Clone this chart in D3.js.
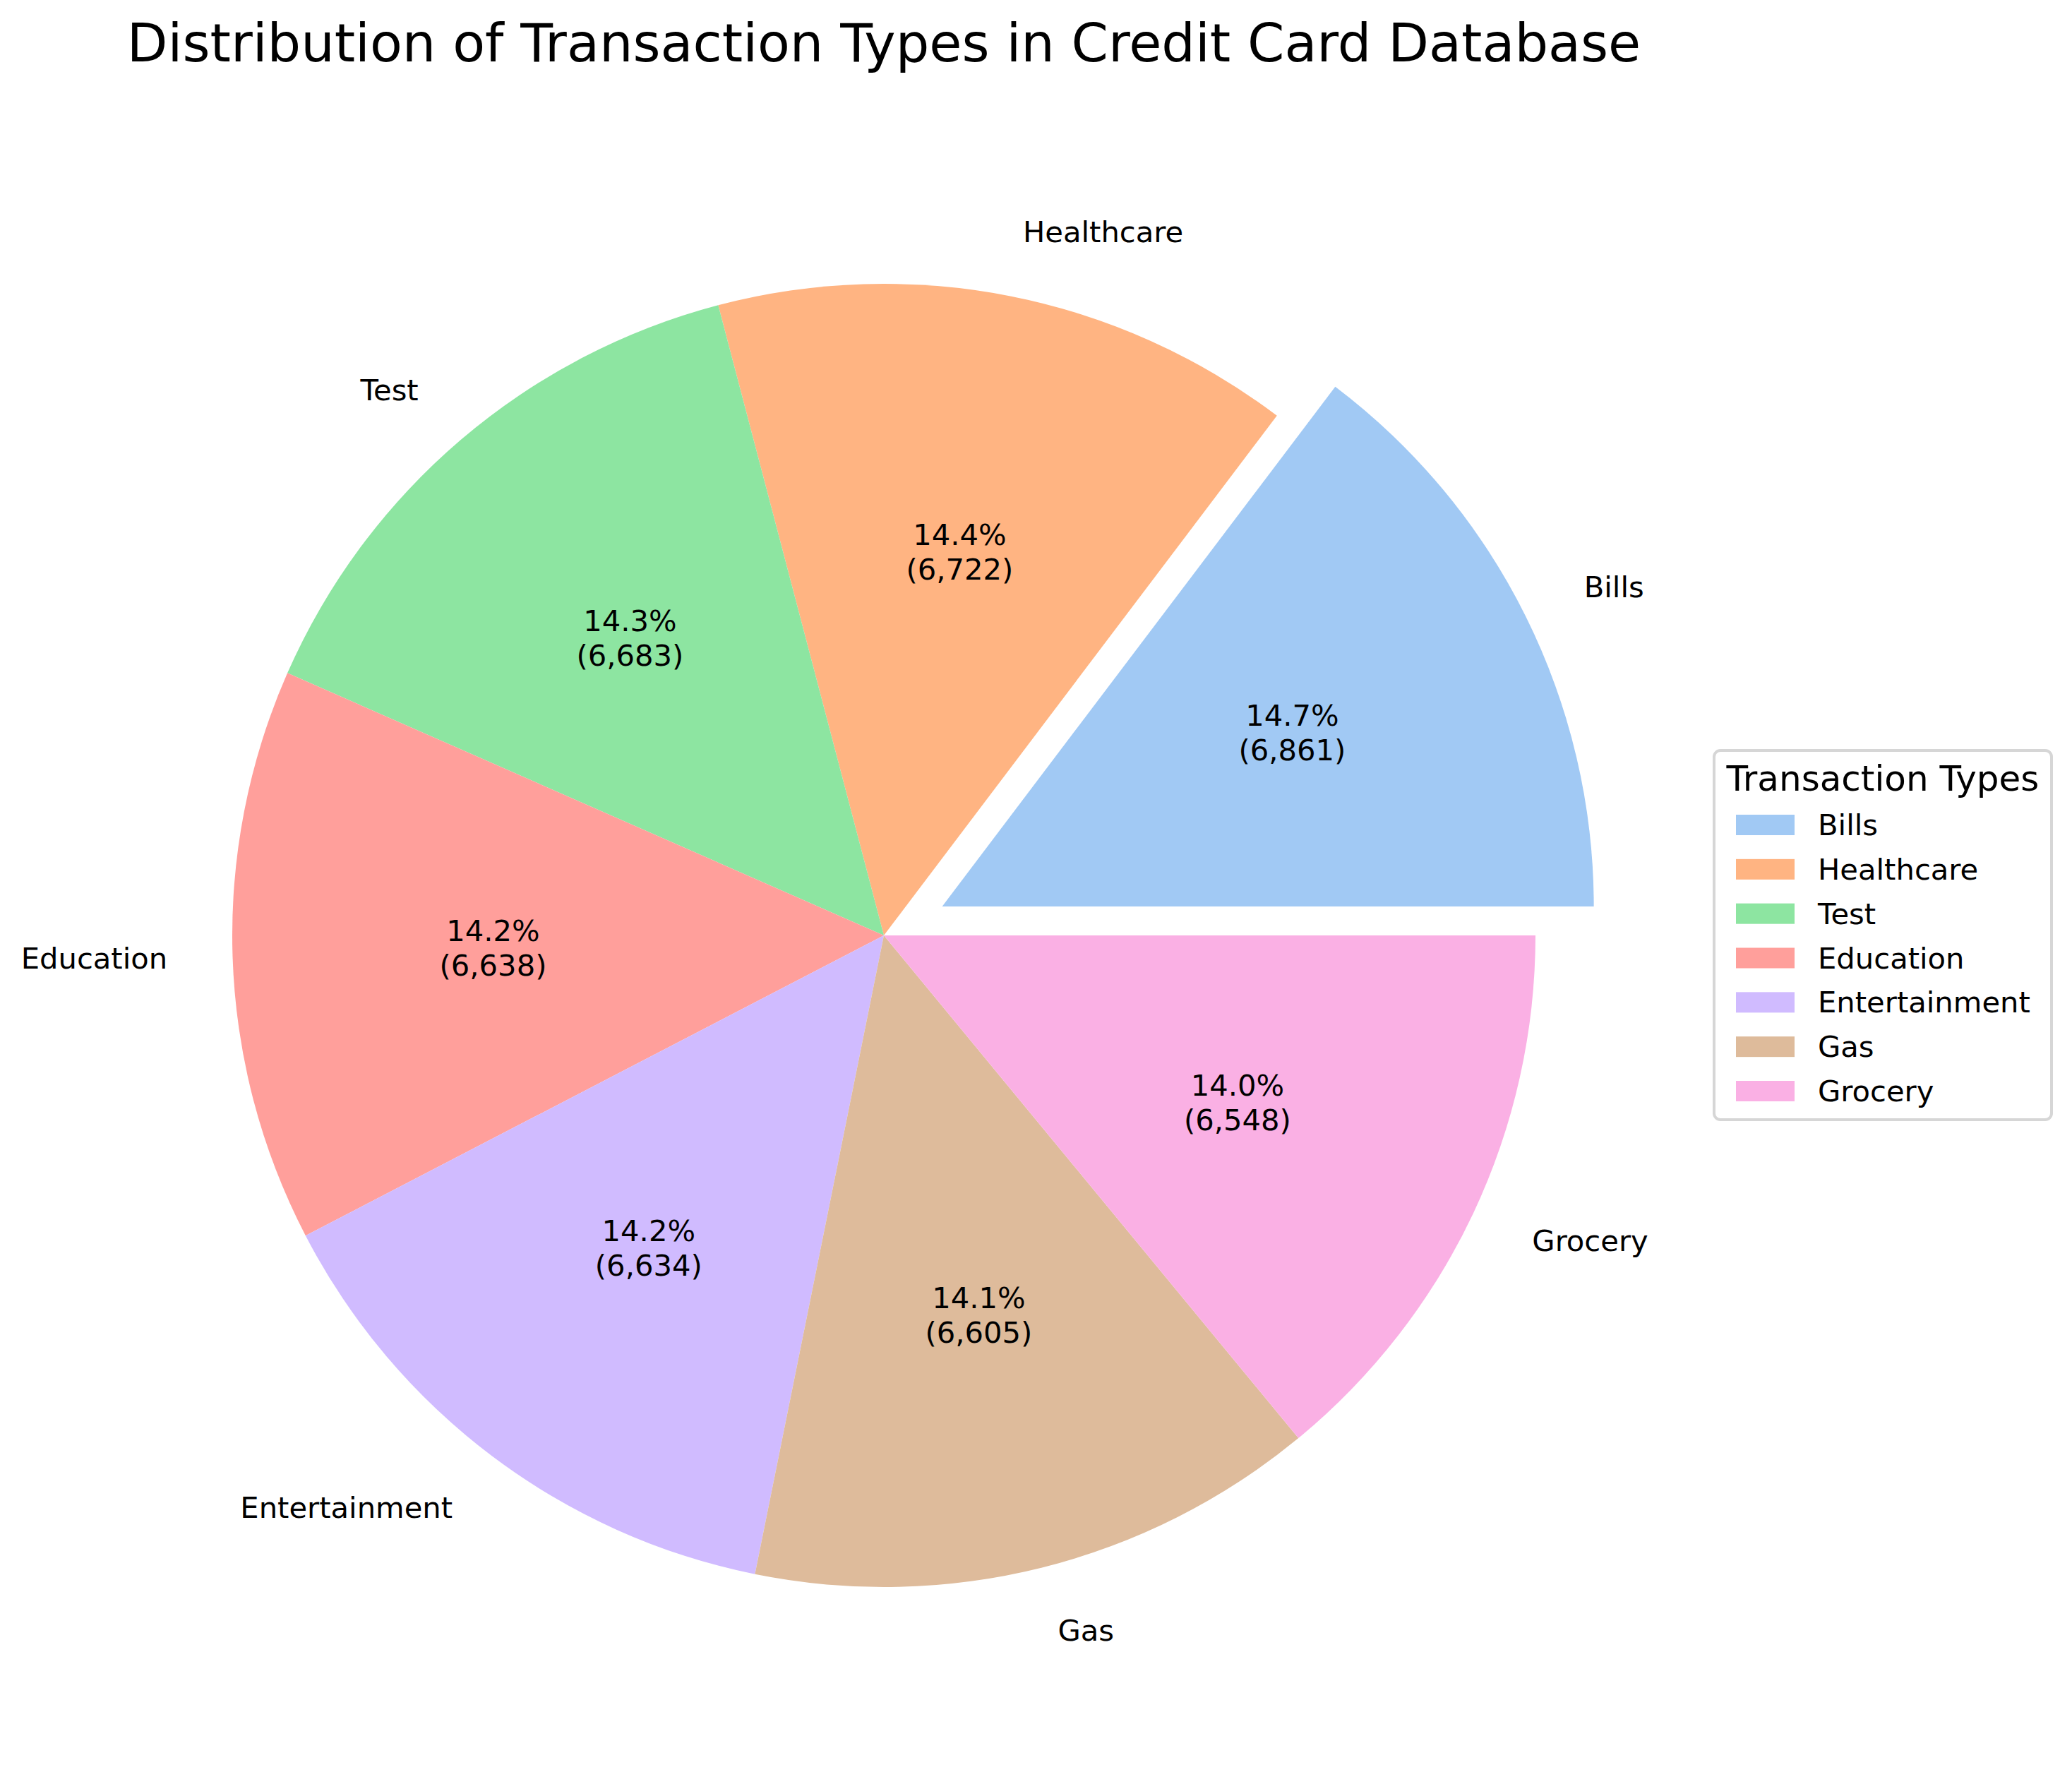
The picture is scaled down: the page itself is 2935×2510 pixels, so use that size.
<!DOCTYPE html>
<html>
<head>
<meta charset="utf-8">
<script src="https://cdn.jsdelivr.net/npm/d3@7"></script>
<style>
  body { margin: 0; background: #fff; }
  text { font-family: "DejaVu Sans", sans-serif; fill: #000; }
</style>
</head>
<body>
<svg id="chart" width="2935" height="2510"></svg>
<script>
const width = 2935;
const height = 2510;

const categories = ["Bills", "Healthcare", "Test", "Education", "Entertainment", "Gas", "Grocery"];
const counts = [6861, 6722, 6683, 6638, 6634, 6605, 6548];
const colors = ["#a1c9f4", "#ffb482", "#8de5a1", "#ff9f9b", "#d0bbff", "#debb9b", "#fab0e4"];
const explode = [0.1, 0, 0, 0, 0, 0, 0];

const title = "Distribution of Transaction Types in Credit Card Database";
const legendTitle = "Transaction Types";

// pie geometry (px)
const cx = 1252, cy = 1325;
const radius = 923;
const labelDist = 1.1;
const pctDist = 0.6;

const total = d3.sum(counts);
const fmt = d3.format(",");

const svg = d3.select("#chart");

const slices = categories.map((c, i) => ({ name: c, value: counts[i], color: colors[i], explode: explode[i] }));

// matplotlib style: counterclockwise from 3 o'clock
const pie = d3.pie()
    .value(d => d.value)
    .sort(null)
    .startAngle(Math.PI / 2)
    .endAngle(Math.PI / 2 - 2 * Math.PI);

const arc = d3.arc().innerRadius(0).outerRadius(radius);

const arcs = pie(slices).map(a => {
    const mid = (a.startAngle + a.endAngle) / 2;
    const ux = Math.sin(mid), uy = -Math.cos(mid);
    const off = a.data.explode * radius;
    return Object.assign(a, { mid: mid, ux: ux, uy: uy, ox: cx + ux * off, oy: cy + uy * off });
});

const g = svg.append("g");

g.selectAll(".wedge")
  .data(arcs)
  .join("path")
  .classed("wedge", true)
  .attr("transform", d => "translate(" + d.ox + "," + d.oy + ")")
  .attr("d", arc)
  .attr("fill", d => d.data.color);

// outer labels
g.selectAll(".slice-label")
  .data(arcs)
  .join("text")
  .classed("slice-label", true)
  .attr("x", d => d.ox + d.ux * radius * labelDist)
  .attr("y", d => d.oy + d.uy * radius * labelDist)
  .attr("text-anchor", d => d.ux > 0 ? "start" : "end")
  .attr("dominant-baseline", "central")
  .style("font-size", "41.7px")
  .text(d => d.data.name);

// percentage + count labels
const pct = g.selectAll(".slice-pct")
  .data(arcs)
  .join("text")
  .classed("slice-pct", true)
  .attr("text-anchor", "middle")
  .attr("dominant-baseline", "central")
  .style("font-size", "41.7px");

pct.append("tspan")
  .attr("x", d => d.ox + d.ux * radius * pctDist)
  .attr("y", d => d.oy + d.uy * radius * pctDist - 24.5)
  .text(d => (d.data.value / total * 100).toFixed(1) + "%");

pct.append("tspan")
  .attr("x", d => d.ox + d.ux * radius * pctDist)
  .attr("y", d => d.oy + d.uy * radius * pctDist + 24.5)
  .text(d => "(" + fmt(d.data.value) + ")");

// title
svg.append("text")
  .attr("x", cx)
  .attr("y", 87)
  .attr("text-anchor", "middle")
  .style("font-size", "75px")
  .text(title);

// legend
const lx = 2428, ly = 1063, lw = 478, lh = 523;
const legend = svg.append("g");

legend.append("rect")
  .attr("x", lx).attr("y", ly)
  .attr("width", lw).attr("height", lh)
  .attr("rx", 9).attr("ry", 9)
  .attr("fill", "#fff")
  .attr("stroke", "#d6d6d6")
  .attr("stroke-width", 4);

legend.append("text")
  .attr("x", lx + lw / 2)
  .attr("y", 1120)
  .attr("text-anchor", "middle")
  .style("font-size", "50px")
  .text(legendTitle);

const rowY = d3.scalePoint().domain(categories).range([1168.5, 1545.5]);

legend.selectAll(".legend-swatch")
  .data(slices)
  .join("rect")
  .classed("legend-swatch", true)
  .attr("x", 2459)
  .attr("y", d => rowY(d.name) - 14.5)
  .attr("width", 83)
  .attr("height", 29)
  .attr("fill", d => d.color);

legend.selectAll(".legend-text")
  .data(slices)
  .join("text")
  .classed("legend-text", true)
  .attr("x", 2575)
  .attr("y", d => rowY(d.name))
  .attr("dominant-baseline", "central")
  .style("font-size", "41.7px")
  .text(d => d.name);
</script>
</body>
</html>
